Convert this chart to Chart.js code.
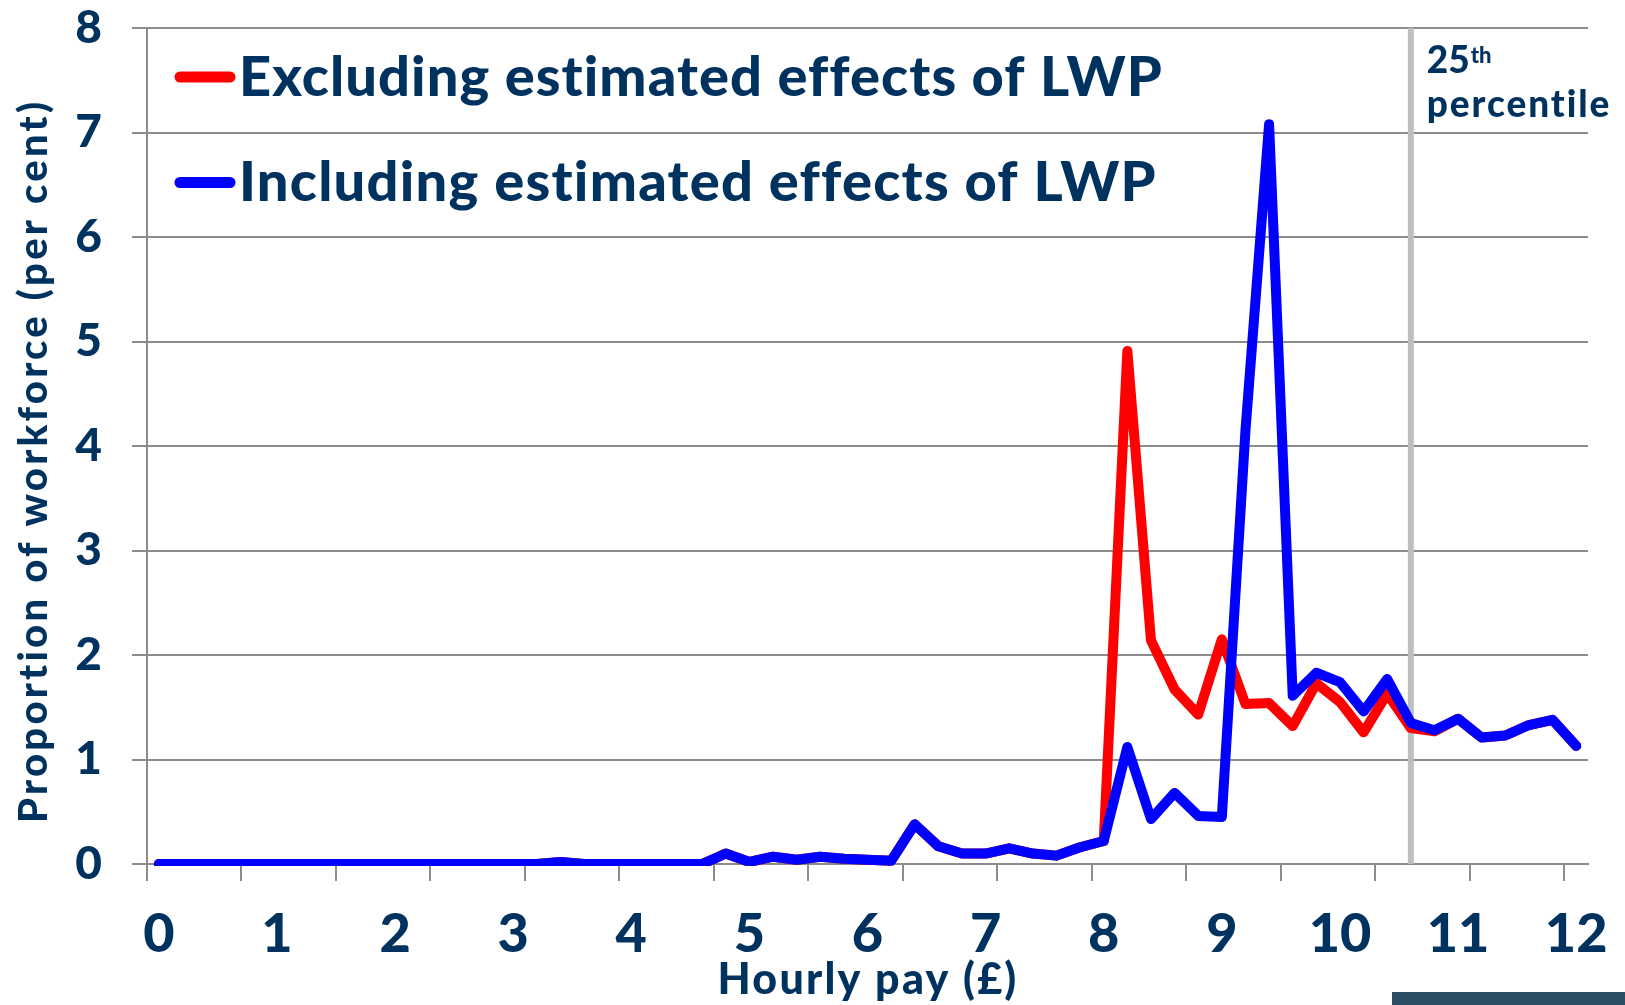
<!DOCTYPE html>
<html lang="en">
<head>
<meta charset="UTF-8">
<title>Hourly pay distribution</title>
<script src="https://cdn.jsdelivr.net/npm/chart.js"></script>
<style>
  body { margin: 0; background: #fff; overflow: hidden; }
  #wrap { position: relative; width: 1625px; height: 1005px; }
  #footBar { position: absolute; left: 1392px; top: 992px; width: 233px; height: 13px; background: #2d4f63; }
</style>
</head>
<body>
<div id="wrap">
  <canvas id="payChart" width="1625" height="1005"></canvas>
  <div id="footBar"></div>
</div>
<script>
// hourly pay bands (£), one point every 20p
const hourlyPay = [
  0, 0.2, 0.4, 0.6, 0.8, 1, 1.2, 1.4, 1.6, 1.8,
  2, 2.2, 2.4, 2.6, 2.8, 3, 3.2, 3.4, 3.6, 3.8,
  4, 4.2, 4.4, 4.6, 4.8, 5, 5.2, 5.4, 5.6, 5.8,
  6, 6.2, 6.4, 6.6, 6.8, 7, 7.2, 7.4, 7.6, 7.8,
  8, 8.2, 8.4, 8.6, 8.8, 9, 9.2, 9.4, 9.6, 9.8,
  10, 10.2, 10.4, 10.6, 10.8, 11, 11.2, 11.4, 11.6, 11.8,
  12
];

// proportion of workforce (per cent)
const excludingLWP = [
  0, 0, 0, 0, 0, 0, 0, 0, 0, 0,
  0, 0, 0, 0, 0, 0, 0, 0.02, 0, 0,
  0, 0, 0, 0, 0.10, 0.02, 0.07, 0.04, 0.07, 0.05,
  0.04, 0.03, 0.38, 0.17, 0.10, 0.10, 0.15, 0.10, 0.08, 0.16,
  0.22, 4.91, 2.14, 1.67, 1.43, 2.15, 1.53, 1.54, 1.32, 1.73,
  1.55, 1.26, 1.63, 1.30, 1.27, 1.39, 1.21, 1.23, 1.33, 1.38,
  1.13
];
const includingLWP = [
  0, 0, 0, 0, 0, 0, 0, 0, 0, 0,
  0, 0, 0, 0, 0, 0, 0, 0.02, 0, 0,
  0, 0, 0, 0, 0.10, 0.02, 0.07, 0.04, 0.07, 0.05,
  0.04, 0.03, 0.38, 0.17, 0.10, 0.10, 0.15, 0.10, 0.08, 0.16,
  0.22, 1.12, 0.43, 0.68, 0.46, 0.45, 4.15, 7.08, 1.61, 1.83,
  1.74, 1.46, 1.77, 1.35, 1.28, 1.39, 1.21, 1.23, 1.33, 1.38,
  1.13
];

const xTickLabels = [0, 1, 2, 3, 4, 5, 6, 7, 8, 9, 10, 11, 12];
const seriesNames = ['Excluding estimated effects of LWP', 'Including estimated effects of LWP'];
const percentile25 = 10.6;

const navy = '#00325f';
const gridGrey = '#8c8c8c';
const fontName = 'Lato';
const step = hourlyPay[1] - hourlyPay[0];

// draw text stretched to a given width with letter spacing
function fitText(ctx, text, x, y, width) {
  ctx.letterSpacing = '0px';
  const w = ctx.measureText(text).width;
  ctx.letterSpacing = ((width - w) / text.length) + 'px';
  ctx.fillText(text, x, y);
  ctx.letterSpacing = '0px';
}

// extra text: legend, axis titles, percentile label
const annotations = {
  id: 'annotations',
  afterDatasetsDraw(chart) {
    const ctx = chart.ctx;
    ctx.save();
    ctx.fillStyle = navy;
    ctx.textAlign = 'left';
    ctx.textBaseline = 'alphabetic';

    // legend inside the plot
    const legendWidths = [923, 917];
    chart.data.datasets.slice(0, 2).forEach((ds, i) => {
      const y = 77 + i * 105.5;
      ctx.strokeStyle = ds.borderColor;
      ctx.lineWidth = 11;
      ctx.lineCap = 'round';
      ctx.beginPath();
      ctx.moveTo(180, y);
      ctx.lineTo(230, y);
      ctx.stroke();
      ctx.font = '900 56px ' + fontName;
      fitText(ctx, ds.label, 239, y + 18.5, legendWidths[i]);
    });

    // 25th percentile label
    const px = chart.scales.x.getPixelForValue(percentile25) + 16;
    ctx.font = '900 37px ' + fontName;
    ctx.fillText('25', px, 73);
    const w = ctx.measureText('25').width;
    ctx.font = '900 22px ' + fontName;
    ctx.fillText('th', px + w + 1, 63);
    ctx.font = '900 37px ' + fontName;
    fitText(ctx, 'percentile', px, 117, 185);

    // x axis title
    const xs = chart.scales.x;
    ctx.font = '900 43px ' + fontName;
    fitText(ctx, 'Hourly pay (£)', (xs.left + xs.right) / 2 - 150, 994, 301);

    // y axis title
    ctx.translate(47, 461);
    ctx.rotate(-Math.PI / 2);
    ctx.font = '900 40px ' + fontName;
    fitText(ctx, 'Proportion of workforce (per cent)', -362, 0, 725);
    ctx.restore();
  }
};

const ctx = document.getElementById('payChart').getContext('2d');
new Chart(ctx, {
  type: 'line',
  data: {
    datasets: [
      {
        label: seriesNames[0],
        data: hourlyPay.map((x, i) => ({ x: x, y: excludingLWP[i] })),
        borderColor: '#ff0000',
        borderWidth: 10,
        borderCapStyle: 'round',
        borderJoinStyle: 'round',
        pointRadius: 0,
        tension: 0,
        clip: { left: 6, top: 6, right: 6, bottom: 2 },
        order: 1
      },
      {
        label: seriesNames[1],
        data: hourlyPay.map((x, i) => ({ x: x, y: includingLWP[i] })),
        borderColor: '#0000ff',
        borderWidth: 10,
        borderCapStyle: 'round',
        borderJoinStyle: 'round',
        pointRadius: 0,
        tension: 0,
        clip: { left: 6, top: 6, right: 6, bottom: 2 },
        order: 0
      },
      {
        label: '25th percentile',
        data: [{ x: percentile25, y: 0 }, { x: percentile25, y: 8 }],
        borderColor: '#bfbfbf',
        borderWidth: 6,
        pointRadius: 0,
        order: 2
      }
    ]
  },
  options: {
    responsive: false,
    animation: false,
    devicePixelRatio: 1,
    layout: { padding: { top: 28, right: 37, left: 0, bottom: 0 } },
    plugins: {
      legend: { display: false },
      tooltip: { enabled: false }
    },
    scales: {
      x: {
        type: 'linear',
        min: hourlyPay[0] - step / 2,
        max: hourlyPay[hourlyPay.length - 1] + step / 2,
        weight: 0,
        afterBuildTicks: (axis) => {
          // tick marks between every 4th category
          axis.ticks = hourlyPay.filter((v, i) => i % 4 === 0).map(v => ({ value: v - step / 2 }));
        },
        afterFit: (axis) => { axis.height = 17; axis.paddingLeft = 0; axis.paddingRight = 0; },
        ticks: { display: false },
        grid: { drawOnChartArea: false, drawTicks: true, tickLength: 17, color: gridGrey, lineWidth: 2 },
        border: { display: true, color: gridGrey, width: 2 }
      },
      x2: {
        type: 'linear',
        axis: 'x',
        position: 'bottom',
        min: hourlyPay[0] - step / 2,
        max: hourlyPay[hourlyPay.length - 1] + step / 2,
        weight: 1,
        afterBuildTicks: (axis) => {
          axis.ticks = xTickLabels.map(v => ({ value: v }));
        },
        afterFit: (axis) => { axis.height = 124; axis.paddingLeft = 0; axis.paddingRight = 0; },
        ticks: { color: navy, font: { family: fontName, weight: '900', size: 54 }, padding: 21, autoSkip: false, maxRotation: 0 },
        grid: { display: false, drawTicks: false },
        border: { display: false }
      },
      y: {
        min: 0,
        max: 8,
        afterFit: (axis) => { axis.width = 147; axis.paddingTop = 0; axis.paddingBottom = 0; },
        ticks: { stepSize: 1, color: navy, font: { family: fontName, weight: '900', size: 46 }, padding: 30 },
        grid: { color: gridGrey, lineWidth: 2, tickLength: 15 },
        border: { display: true, color: gridGrey, width: 2 }
      }
    }
  },
  plugins: [annotations]
});
</script>
</body>
</html>
